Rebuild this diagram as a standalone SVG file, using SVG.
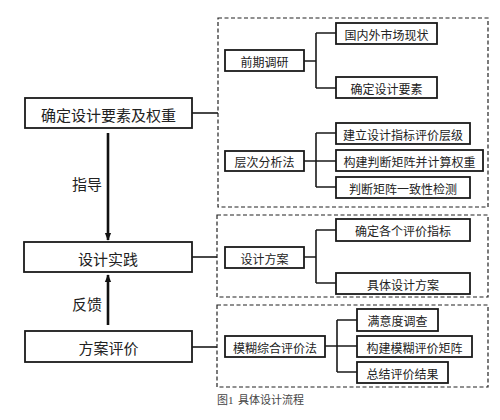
<svg xmlns="http://www.w3.org/2000/svg" width="500" height="420" viewBox="0 0 500 420">
<defs>
<marker id="ah" viewBox="0 0 10 10" refX="9" refY="5" markerWidth="3" markerHeight="3" orient="auto" markerUnits="strokeWidth">
<path d="M0,1 L10,5 L0,9 z" fill="#111"/>
</marker>
<style>
.b{fill:#fff;stroke:#1a1a1a;stroke-width:1.8}
.d{fill:none;stroke:#222;stroke-width:1.2;stroke-dasharray:4,2.5}
.c{fill:none;stroke:#1a1a1a;stroke-width:1.6}
.a{fill:none;stroke:#111;stroke-width:2.6}
.t{font-family:"Noto Sans CJK SC","Noto Sans",sans-serif;fill:#222;text-anchor:middle;dominant-baseline:central}
.L{font-size:15px}
.s{font-size:12px}
.cap{font-family:"Liberation Serif","Noto Sans CJK SC",serif;font-size:11px;fill:#444}
</style>
</defs>
<rect width="500" height="420" fill="#fff"/>
<g id="groups">
<rect class="d" x="218" y="18" width="270" height="189"/>
<rect class="d" x="217" y="215" width="271" height="82"/>
<rect class="d" x="217" y="305" width="271" height="82"/>
</g>
<g id="connectors">
<path class="c" d="M192,113 H218"/>
<path class="c" d="M192,257 H217"/>
<path class="c" d="M192,347 H217"/>
<path class="c" d="M304,61 H316 M316,33 V88 M316,33 H336 M316,88 H336"/>
<path class="c" d="M304,161 H336 M316,133 V187 M316,133 H336 M316,187 H336"/>
<path class="c" d="M304,257 H316 M316,230 V283 M316,230 H336 M316,283 H336"/>
<path class="c" d="M325,346 H357 M337,320 V372 M337,320 H357 M337,372 H357"/>
<path class="a" d="M108,133 V240" marker-end="url(#ah)"/>
<path class="a" d="M108,325 V275" marker-end="url(#ah)"/>
</g>
<g id="n1"><rect class="b" x="25" y="98" width="167" height="30"/><text class="t L" x="108.5" y="114">确定设计要素及权重</text></g>
<g id="n2"><rect class="b" x="24" y="242" width="168" height="30"/><text class="t L" x="108" y="258">设计实践</text></g>
<g id="n3"><rect class="b" x="25" y="331" width="167" height="31"/><text class="t L" x="108.5" y="347">方案评价</text></g>
<g id="lbl1"><text class="t L" x="87" y="183">指导</text></g>
<g id="lbl2"><text class="t L" x="87" y="303">反馈</text></g>
<g id="s1"><rect class="b" x="225" y="50" width="79" height="21"/><text class="t s" x="264.5" y="61">前期调研</text></g>
<g id="s1a"><rect class="b" x="336" y="23" width="101" height="21"/><text class="t s" x="386.5" y="34">国内外市场现状</text></g>
<g id="s1b"><rect class="b" x="336" y="77" width="101" height="21"/><text class="t s" x="386.5" y="88">确定设计要素</text></g>
<g id="s2"><rect class="b" x="225" y="151" width="79" height="20"/><text class="t s" x="264.5" y="161">层次分析法</text></g>
<g id="s2a"><rect class="b" x="336" y="123" width="134" height="21"/><text class="t s" x="403" y="134">建立设计指标评价层级</text></g>
<g id="s2b"><rect class="b" x="336" y="150" width="147" height="21"/><text class="t s" x="409.5" y="161">构建判断矩阵并计算权重</text></g>
<g id="s2c"><rect class="b" x="336" y="177" width="134" height="21"/><text class="t s" x="403" y="188">判断矩阵一致性检测</text></g>
<g id="s3"><rect class="b" x="225" y="247" width="79" height="21"/><text class="t s" x="264.5" y="258">设计方案</text></g>
<g id="s3a"><rect class="b" x="336" y="219" width="134" height="22"/><text class="t s" x="403" y="230">确定各个评价指标</text></g>
<g id="s3b"><rect class="b" x="336" y="273" width="134" height="21"/><text class="t s" x="403" y="284">具体设计方案</text></g>
<g id="s4"><rect class="b" x="225" y="336" width="100" height="21"/><text class="t s" x="275" y="347">模糊综合评价法</text></g>
<g id="s4a"><rect class="b" x="357" y="309" width="81" height="22"/><text class="t s" x="397.5" y="320">满意度调查</text></g>
<g id="s4b"><rect class="b" x="357" y="336" width="115" height="21"/><text class="t s" x="414.5" y="347">构建模糊评价矩阵</text></g>
<g id="s4c"><rect class="b" x="357" y="362" width="91" height="21"/><text class="t s" x="402.5" y="373">总结评价结果</text></g>
<text class="cap" x="217" y="404">图1<tspan x="238">具体设计流程</tspan></text>
</svg>
